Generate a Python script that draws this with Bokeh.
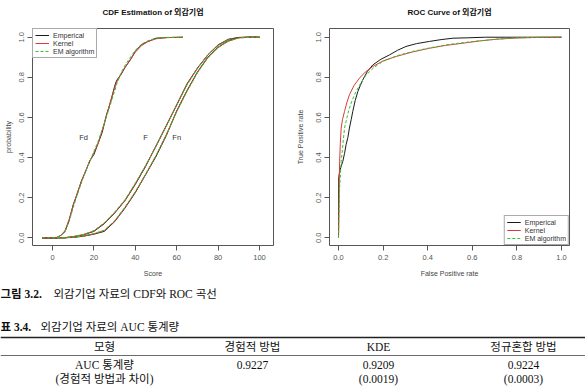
from bokeh.plotting import figure
from bokeh.layouts import column, row
from bokeh.models import (Range1d, FixedTicker, NumeralTickFormatter, Legend,
                          LegendItem, ColumnDataSource)
from bokeh.core.properties import value
from bokeh.embed import file_html
from bokeh.resources import INLINE

# ---------------- data ----------------
# CDF of defaulted firms (Fd)
fd_x = [-5, 2, 4, 6, 8, 10, 12, 14, 16, 18, 20, 22, 24, 26, 28, 30, 31, 33, 35, 38, 40, 43, 46, 50, 55, 63]
fd_emp = [0, 0.0, 0.012, 0.03, 0.085, 0.165, 0.22, 0.285, 0.33, 0.385, 0.415, 0.47, 0.525, 0.61, 0.675, 0.755, 0.785, 0.812, 0.848, 0.893, 0.93, 0.963, 0.978, 0.995, 0.998, 1.0]
fd_ker = [0, 0.002, 0.012, 0.035, 0.09, 0.16, 0.225, 0.28, 0.335, 0.38, 0.425, 0.47, 0.535, 0.605, 0.68, 0.745, 0.775, 0.815, 0.85, 0.895, 0.925, 0.958, 0.978, 0.992, 0.998, 1.0]
fd_em = [0, 0.002, 0.01, 0.03, 0.08, 0.15, 0.215, 0.275, 0.33, 0.38, 0.43, 0.48, 0.54, 0.6, 0.665, 0.73, 0.765, 0.82, 0.86, 0.905, 0.935, 0.965, 0.982, 0.995, 0.999, 1.0]

# CDF of all firms (F) and non-defaulted firms (Fn)
fn_x = [-5, 6, 10, 15, 20, 25, 30, 35, 40, 45, 50, 55, 60, 65, 70, 75, 80, 85, 90, 95, 100]
f_emp = [0, 0.0, 0.005, 0.015, 0.032, 0.07, 0.123, 0.185, 0.266, 0.356, 0.458, 0.56, 0.662, 0.768, 0.846, 0.912, 0.962, 0.99, 0.999, 1.0, 1.0]
f_ker = [0, 0.001, 0.006, 0.016, 0.034, 0.072, 0.125, 0.186, 0.27, 0.36, 0.457, 0.558, 0.664, 0.765, 0.845, 0.91, 0.96, 0.988, 0.998, 1.0, 1.0]
f_em = [0, 0.001, 0.006, 0.017, 0.036, 0.075, 0.128, 0.19, 0.272, 0.36, 0.456, 0.556, 0.66, 0.762, 0.843, 0.91, 0.958, 0.987, 0.998, 1.0, 1.0]
fn_emp = [0, 0.0, 0.002, 0.008, 0.018, 0.032, 0.08, 0.148, 0.225, 0.315, 0.405, 0.51, 0.633, 0.735, 0.826, 0.9, 0.95, 0.982, 0.998, 1.0, 1.0]
fn_ker = [0, 0.001, 0.003, 0.009, 0.02, 0.036, 0.082, 0.15, 0.228, 0.316, 0.41, 0.515, 0.63, 0.732, 0.824, 0.898, 0.95, 0.981, 0.997, 1.0, 1.0]
fn_em = [0, 0.001, 0.003, 0.01, 0.021, 0.038, 0.085, 0.153, 0.23, 0.318, 0.41, 0.512, 0.628, 0.73, 0.822, 0.896, 0.948, 0.98, 0.996, 0.999, 1.0]

# ROC curves
roc_emp_fpr = [0, 0, 0.001, 0.005, 0.01, 0.019, 0.027, 0.034, 0.042, 0.049, 0.057, 0.064, 0.075, 0.087, 0.098, 0.109, 0.13, 0.154, 0.19, 0.229, 0.265, 0.303, 0.35, 0.408, 0.46, 0.513, 0.58, 0.66, 0.75, 1.0]
roc_emp_tpr = [0, 0.1, 0.3, 0.33, 0.35, 0.38, 0.42, 0.464, 0.5, 0.547, 0.59, 0.63, 0.685, 0.73, 0.76, 0.788, 0.83, 0.862, 0.89, 0.912, 0.935, 0.954, 0.968, 0.979, 0.988, 0.995, 0.997, 1.0, 1.0, 1.0]
roc_ker_fpr = [0, 0.001, 0.003, 0.005, 0.008, 0.012, 0.018, 0.027, 0.037, 0.049, 0.07, 0.094, 0.12, 0.154, 0.2, 0.259, 0.33, 0.408, 0.48, 0.557, 0.63, 0.707, 0.8, 0.9, 1.0]
roc_ker_tpr = [0, 0.05, 0.25, 0.38, 0.47, 0.547, 0.59, 0.63, 0.672, 0.713, 0.76, 0.796, 0.826, 0.854, 0.882, 0.904, 0.926, 0.945, 0.959, 0.97, 0.981, 0.99, 0.996, 0.999, 1.0]
roc_em_fpr = [0, 0.001, 0.005, 0.012, 0.02, 0.027, 0.038, 0.049, 0.063, 0.079, 0.1, 0.124, 0.16, 0.199, 0.26, 0.333, 0.41, 0.483, 0.56, 0.632, 0.72, 0.8, 0.9, 1.0]
roc_em_tpr = [0, 0.05, 0.25, 0.38, 0.47, 0.547, 0.6, 0.647, 0.69, 0.73, 0.772, 0.812, 0.85, 0.879, 0.907, 0.929, 0.947, 0.962, 0.973, 0.982, 0.991, 0.997, 1.0, 1.0]

legend_labels = ["Emperical", "Kernel", "EM algorithm"]
curve_labels = ["Fd", "F", "Fn"]
curve_label_x = [15, 45, 60]
curve_label_y = [0.5, 0.5, 0.5]

x_ticks_cdf = [0, 20, 40, 60, 80, 100]
x_ticks_roc = [0.0, 0.2, 0.4, 0.6, 0.8, 1.0]
y_ticks = [0.0, 0.2, 0.4, 0.6, 0.8, 1.0]

plot_titles = ["CDF Estimation of 외감기업", "ROC Curve of 외감기업"]
fig_caption_bold = "그림 3.2."
fig_caption = "외감기업 자료의 CDF와 ROC 곡선"
tab_caption_bold = "표 3.4."
tab_caption = "외감기업 자료의 AUC 통계량"
tab_header = ["모형", "경험적 방법", "KDE", "정규혼합 방법"]
tab_row1 = ["AUC 통계량", "0.9227", "0.9209", "0.9224"]
tab_row2 = ["(경험적 방법과 차이)", "", "(0.0019)", "(0.0003)"]

# ---------------- styling ----------------
SANS = "Liberation Sans, Noto Sans CJK KR"
SERIF = "Liberation Serif, Noto Sans CJK KR"
BLACK = "#1a1a1a"
RED = "#dd3a3a"
GREEN = "#2fc42f"
GRAY = "#555555"


def style(p, xlabel, ylabel, xticks, xfmt, ylabel_standoff):
    p.outline_line_color = GRAY
    p.outline_line_width = 1
    p.grid.visible = False
    for ax in (p.xaxis[0], p.yaxis[0]):
        ax.axis_line_color = None
        ax.major_tick_line_color = GRAY
        ax.major_tick_out = 5
        ax.major_tick_in = 0
        ax.minor_tick_line_color = None
        ax.major_label_text_font = SANS
        ax.major_label_text_font_size = "7.5px"
        ax.major_label_text_color = GRAY
        ax.axis_label_text_font = SANS
        ax.axis_label_text_font_size = "7px"
        ax.axis_label_text_font_style = "normal"
        ax.axis_label_text_color = "#444444"
    p.xaxis[0].ticker = FixedTicker(ticks=xticks)
    p.xaxis[0].formatter = NumeralTickFormatter(format=xfmt)
    p.xaxis[0].axis_label = xlabel
    p.xaxis[0].major_label_standoff = 4
    p.xaxis[0].axis_label_standoff = 7
    p.yaxis[0].ticker = FixedTicker(ticks=y_ticks)
    p.yaxis[0].formatter = NumeralTickFormatter(format="0.0")
    p.yaxis[0].axis_label = ylabel
    p.yaxis[0].major_label_orientation = "vertical"
    p.yaxis[0].major_label_standoff = 3
    p.yaxis[0].axis_label_standoff = ylabel_standoff


def make_legend(p, line_renderers, location):
    items = []
    for lab, lr, col in zip(legend_labels, line_renderers, [BLACK, RED, GREEN]):
        sc = p.scatter(x="x", y="y", source=ColumnDataSource(dict(x=[], y=[])),
                       marker="circle", size=4, line_color=col, fill_color="white",
                       line_width=1)
        items.append(LegendItem(label=lab, renderers=[lr, sc]))
    leg = Legend(items=items, location=location, margin=0, padding=2, spacing=0,
                 label_height=8, glyph_height=8, glyph_width=14, label_standoff=4,
                 label_text_font=SANS, label_text_font_size="7px",
                 label_text_color="#333333", border_line_color=GRAY,
                 border_line_width=1, background_fill_alpha=1)
    p.add_layout(leg)


def blank(w, h, yr):
    p = figure(width=w, height=h, output_backend="svg", toolbar_location=None,
               x_range=Range1d(0, w), y_range=Range1d(*yr),
               min_border=0, min_border_left=0, min_border_right=0,
               min_border_top=0, min_border_bottom=0)
    p.axis.visible = False
    p.grid.visible = False
    p.outline_line_color = None
    return p


# ---------------- titles strip ----------------
pt = blank(585, 20, (20, 0))
pt.text(x=[152.5, 449], y=[12, 12], text=plot_titles, text_font=value(SANS),
        text_font_size="8px", text_font_style="bold", text_color="#111111",
        text_align="center", text_baseline="middle")

# ---------------- CDF plot ----------------
p1 = figure(width=292, height=265, output_backend="svg", toolbar_location=None,
            x_range=Range1d(-9.66, 106.76), y_range=Range1d(-0.0384, 1.0434),
            min_border_left=32, min_border_right=19, min_border_top=8, min_border_bottom=40)
style(p1, "Score", "probability", x_ticks_cdf, "0", 5)

l_emp = p1.line(fd_x, fd_emp, line_color=BLACK, line_width=1)
l_ker = p1.line(fd_x, fd_ker, line_color=RED, line_width=1)
l_em = p1.line(fd_x, fd_em, line_color=GREEN, line_width=1, line_dash="3 2")
for ys_list in ((f_emp, f_ker, f_em), (fn_emp, fn_ker, fn_em)):
    p1.line(fn_x, ys_list[0], line_color=BLACK, line_width=1)
    p1.line(fn_x, ys_list[1], line_color=RED, line_width=1)
    p1.line(fn_x, ys_list[2], line_color=GREEN, line_width=1, line_dash="3 2")
p1.text(x=curve_label_x, y=curve_label_y, text=curve_labels, text_font=value(SANS),
        text_font_size="7.5px", text_color="#333333", text_align="center",
        text_baseline="middle")
make_legend(p1, [l_emp, l_ker, l_em], "top_left")

# ---------------- ROC plot ----------------
p2 = figure(width=293, height=265, output_backend="svg", toolbar_location=None,
            x_range=Range1d(-0.0404, 1.0359), y_range=Range1d(-0.0384, 1.0434),
            min_border_left=37, min_border_right=16, min_border_top=8, min_border_bottom=40)
style(p2, "False Positive rate", "True Positive rate", x_ticks_roc, "0.0", 10)
r_emp = p2.line(roc_emp_fpr, roc_emp_tpr, line_color=BLACK, line_width=1)
r_ker = p2.line(roc_ker_fpr, roc_ker_tpr, line_color=RED, line_width=1)
r_em = p2.line(roc_em_fpr, roc_em_tpr, line_color=GREEN, line_width=1, line_dash="3 2")
make_legend(p2, [r_emp, r_ker, r_em], "bottom_right")

# ---------------- caption + table ----------------
p3 = blank(585, 101, (101, 0))
p3.text(x=[0, 0], y=[8, 41], text=[fig_caption_bold, tab_caption_bold],
        text_font=value(SERIF), text_font_size="11.5px", text_font_style="bold",
        text_color="#111111", text_baseline="middle", text_align="left")
p3.text(x=[53, 40], y=[8, 41], text=[fig_caption, tab_caption],
        text_font=value(SERIF), text_font_size="11.5px",
        text_color="#111111", text_baseline="middle", text_align="left")
col_x = [104, 252, 378, 523]
for rows_y, cells in ((61, tab_header), (79, tab_row1), (93, tab_row2)):
    p3.text(x=col_x, y=[rows_y] * 4, text=cells, text_font=value(SERIF),
            text_font_size="11.5px", text_color="#111111",
            text_baseline="middle", text_align="center")
p3.segment(x0=[0], y0=[52], x1=[585], y1=[52], line_color="#222222", line_width=1.3)
p3.segment(x0=[0], y0=[70], x1=[585], y1=[70], line_color="#444444", line_width=0.8)

layout = column(pt, row(p1, p2), p3)
open("out.html", "w").write(file_html(layout, INLINE))
